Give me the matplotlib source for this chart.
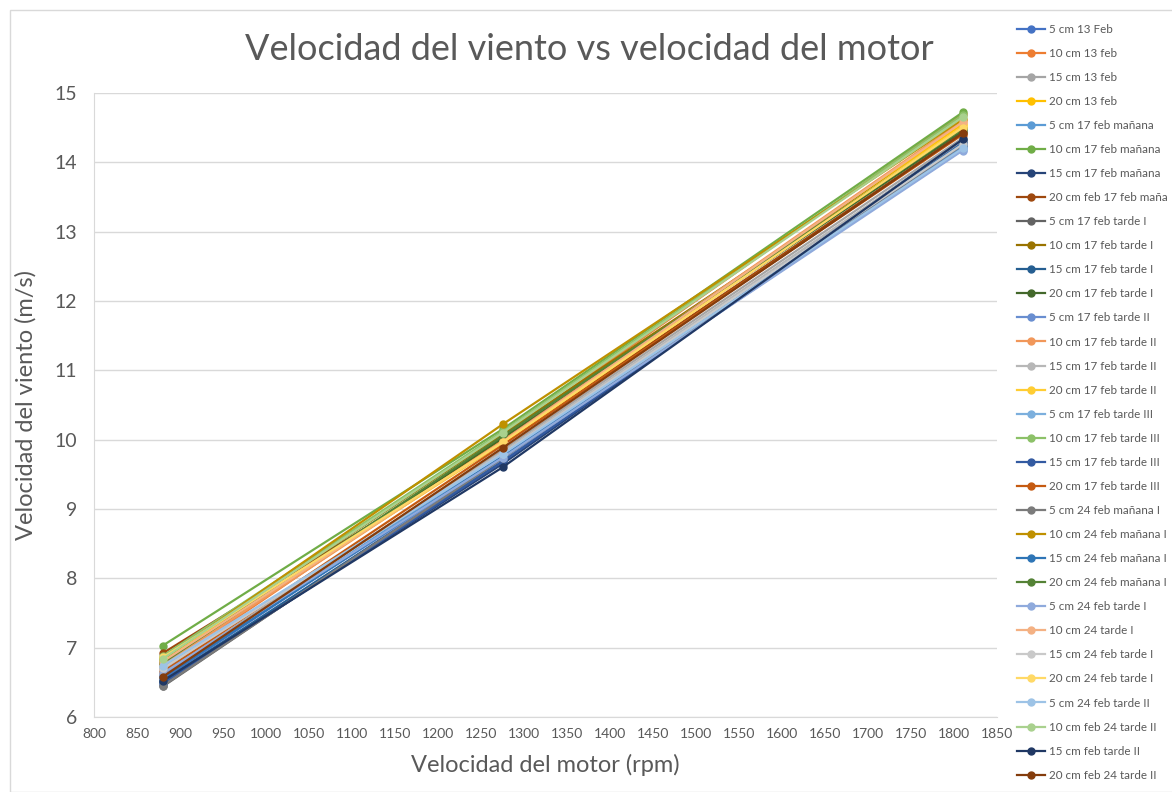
import matplotlib
matplotlib.use("Agg")
import matplotlib.pyplot as plt
from matplotlib.patches import Rectangle

plt.rcParams['font.family'] = ['Lato', 'DejaVu Sans']

# velocidad del motor (rpm)
rpm = [880, 1275, 1810]

series_names = [
    "5 cm 13 Feb", "10 cm 13 feb", "15 cm 13 feb", "20 cm 13 feb",
    "5 cm 17 feb mañana", "10 cm 17 feb mañana", "15 cm 17 feb mañana", "20 cm feb 17 feb maña",
    "5 cm 17 feb tarde I", "10 cm 17 feb tarde I", "15 cm 17 feb tarde I", "20 cm 17 feb tarde I",
    "5 cm 17 feb tarde II", "10 cm 17 feb tarde II", "15 cm 17 feb tarde II", "20 cm 17 feb tarde II",
    "5 cm 17 feb tarde III", "10 cm 17 feb tarde III", "15 cm 17 feb tarde III", "20 cm 17 feb tarde III",
    "5 cm 24 feb mañana I", "10 cm 24 feb mañana I", "15 cm 24 feb mañana I", "20 cm 24 feb mañana I",
    "5 cm 24 feb tarde I", "10 cm 24 tarde I", "15 cm 24 feb tarde I", "20 cm 24 feb tarde I",
    "5 cm 24 feb tarde II", "10 cm feb 24 tarde II", "15 cm feb tarde II", "20 cm feb 24 tarde II",
]

# velocidad del viento (m/s) at 880, 1275, 1810 rpm
v_880 = [6.55, 6.70, 6.62, 6.78, 6.58, 7.03, 6.50, 6.92,
         6.44, 6.85, 6.52, 6.80, 6.60, 6.75, 6.68, 6.82,
         6.72, 6.88, 6.48, 6.65, 6.45, 6.83, 6.57, 6.78,
         6.63, 6.80, 6.70, 6.86, 6.74, 6.84, 6.52, 6.58]
v_1275 = [9.78, 10.05, 9.85, 10.00, 9.80, 10.15, 9.65, 9.95,
          9.75, 10.08, 9.70, 10.02, 9.72, 9.98, 9.82, 9.95,
          9.78, 10.12, 9.68, 9.92, 9.73, 10.22, 9.76, 10.05,
          9.74, 9.97, 9.80, 9.96, 9.79, 10.10, 9.60, 9.88]
v_1810 = [14.25, 14.70, 14.35, 14.55, 14.22, 14.72, 14.30, 14.42,
          14.28, 14.50, 14.32, 14.45, 14.20, 14.60, 14.30, 14.52,
          14.18, 14.68, 14.28, 14.40, 14.25, 14.62, 14.27, 14.48,
          14.17, 14.58, 14.26, 14.50, 14.20, 14.65, 14.33, 14.42]

colors = [
    "#4472C4", "#ED7D31", "#A5A5A5", "#FFC000", "#5B9BD5", "#70AD47",
    "#264478", "#9E480E", "#636363", "#997300", "#255E91", "#43682B",
    "#698ED0", "#F1975A", "#B7B7B7", "#FFCD33", "#7CAFDD", "#8CC168",
    "#335AA1", "#C55A11", "#7B7B7B", "#BF9000", "#2E75B6", "#548235",
    "#8FAADC", "#F4B183", "#C9C9C9", "#FFD966", "#9DC3E6", "#A9D18E",
    "#203864", "#843C0C",
]

fig = plt.figure(figsize=(11.72, 7.92), dpi=100)
ax = fig.add_axes([0.0802, 0.0947, 0.7705, 0.7879])

for i, name in enumerate(series_names):
    ax.plot(rpm, [v_880[i], v_1275[i], v_1810[i]], color=colors[i], marker='o',
            markersize=5, linewidth=1.6, label=name)

ax.set_xlim(800, 1850)
ax.set_ylim(6, 15)
ax.set_xticks(range(800, 1851, 50))
ax.set_yticks(range(6, 16))
ax.tick_params(axis='x', length=0, labelsize=10, colors='#595959', pad=8)
ax.tick_params(axis='y', length=0, labelsize=14, colors='#595959', pad=12)
ax.grid(axis='y', color='#D9D9D9', linewidth=1)
ax.set_axisbelow(True)
for s in ['top', 'right']:
    ax.spines[s].set_visible(False)
for s in ['left', 'bottom']:
    ax.spines[s].set_color('#D9D9D9')

ax.set_xlabel("Velocidad del motor (rpm)", fontsize=17, color='#595959', labelpad=10)
ax.set_ylabel("Velocidad del viento (m/s)", fontsize=17, color='#595959', labelpad=13)
fig.text(0.503, 0.938, "Velocidad del viento vs velocidad del motor", ha='center', va='center',
         fontsize=26, color='#595959')

leg = ax.legend(loc='upper left', bbox_to_anchor=(0.864, 0.976), bbox_transform=fig.transFigure,
                frameon=False, fontsize=8.4, labelspacing=1.12, handlelength=2.4,
                handletextpad=0.3, borderaxespad=0)
for t in leg.get_texts():
    t.set_color('#595959')

fig.patches.append(Rectangle((10 / 1172, 0), 1.0, 1 - 10 / 792, transform=fig.transFigure,
                             fill=False, edgecolor='#D9D9D9', linewidth=1))

fig.savefig("out.png", dpi=100)
